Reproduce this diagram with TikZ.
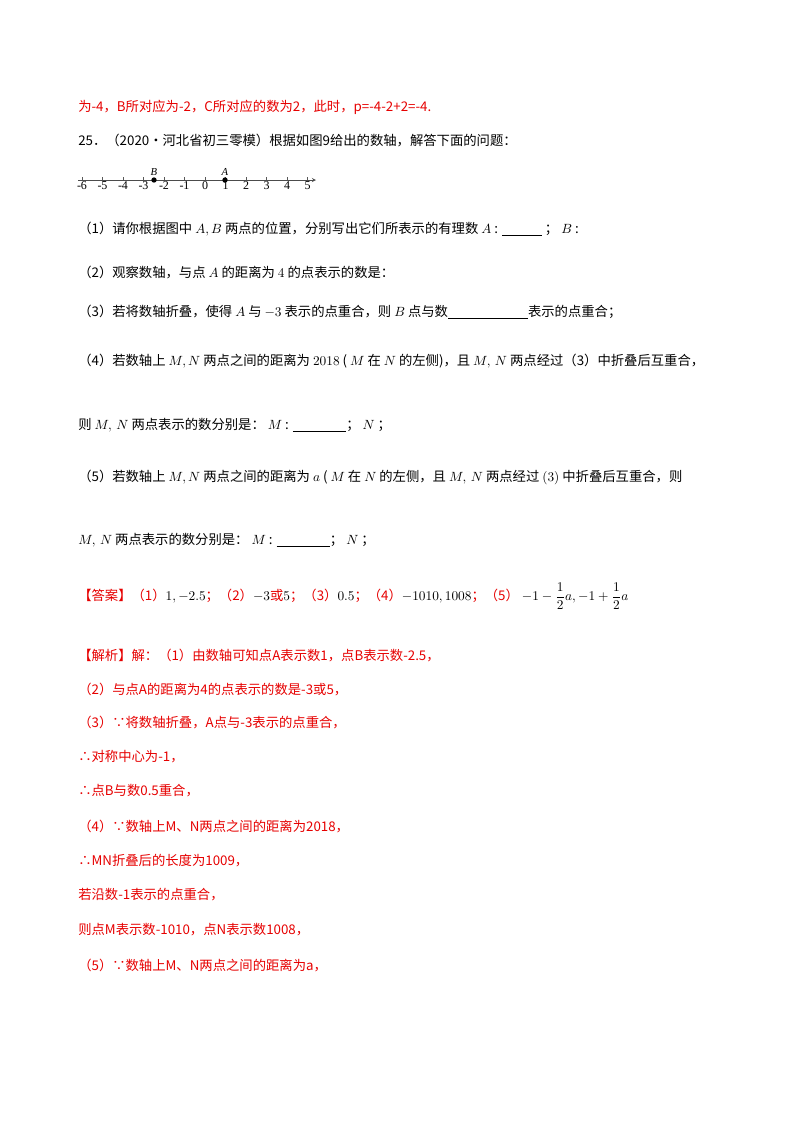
\documentclass[tikz,border=0pt]{standalone}
\usepackage{fontspec}
\setmainfont{Liberation Serif}
\newfontfamily\cjk{Noto Sans CJK SC}
\usetikzlibrary{positioning}
\definecolor{ansred}{RGB}{230,0,0}
\tikzset{
  txt/.style={anchor=west, inner sep=0pt, font=\cjk\fontsize{10}{12}\selectfont},
  redtxt/.style={txt, text=ansred},
  tick/.style={thin, gray!70!black},
  dot/.style={circle, fill=black, inner sep=0pt, minimum size=4pt}
}
\newcommand{\blank}[1]{\underline{\hspace{#1}}}
\begin{document}
\begin{tikzpicture}[x=0.75pt, y=-0.75pt]
  \useasboundingbox (0,0) rectangle (800,1132);

  \node (prev) [redtxt] at (78,107) {为-4，\textit{B}所对应为-2，\textit{C}所对应的数为2，此时，\textit{p}=-4-2+2=-4.};
  \node (title) [txt] at (78,141) {25．（2020·河北省初三零模）根据如图9给出的数轴，解答下面的问题：};

  % number line
  \coordinate (axl) at (78,180);
  \coordinate (axr) at (316,180);
  \draw [gray!60!black, ->, >=stealth] (axl) -- (axr);
  \foreach \n [count=\i from 0] in {-6,...,5} {
    \draw [tick] (82+20.5*\i,177) -- (82+20.5*\i,180);
    \node [font=\fontsize{9}{10}\selectfont, inner sep=0pt] at (82+20.5*\i,186) {\n};
  }
  \node (ptB) [dot] at (154,180) {};
  \node (ptA) [dot] at (225,180) {};
  \node [above=1pt of ptB, inner sep=0pt, font=\itshape\fontsize{8}{9}\selectfont] {B};
  \node [above=1pt of ptA, inner sep=0pt, font=\itshape\fontsize{8}{9}\selectfont] {A};

  \node (q1) [txt] at (78,229) {（1）请你根据图中 $A,B$ 两点的位置，分别写出它们所表示的有理数 $A$ : \blank{30pt} ； $B$ :};
  \node (q2) [txt] at (78,273) {（2）观察数轴，与点 $A$ 的距离为 $4$ 的点表示的数是：};
  \node (q3) [txt] at (78,312) {（3）若将数轴折叠，使得 $A$ 与 $-3$ 表示的点重合，则 $B$ 点与数\blank{60pt}表示的点重合；};
  \node (q4) [txt] at (78,361) {（4）若数轴上 $M,N$ 两点之间的距离为 $2018$ ( $M$ 在 $N$ 的左侧)，且 $M,\,N$ 两点经过（3）中折叠后互重合，};
  \node (q4b) [txt] at (78,425) {则 $M,\,N$ 两点表示的数分别是： $M$ : \blank{40pt}； $N$ ；};
  \node (q5) [txt] at (78,477) {（5）若数轴上 $M,N$ 两点之间的距离为 $a$ ( $M$ 在 $N$ 的左侧，且 $M,\,N$ 两点经过 $(3)$ 中折叠后互重合，则};
  \node (q5b) [txt] at (78,540) {$M,\,N$ 两点表示的数分别是： $M$ : \blank{40pt}； $N$ ；};

  \node (ans) [txt] at (78,596) {\textcolor{ansred}{【答案】（1）}$1,-2.5$\textcolor{ansred}{；（2）}$-3$\textcolor{ansred}{或}$5$\textcolor{ansred}{；（3）}$0.5$\textcolor{ansred}{；（4）}$-1010,1008$\textcolor{ansred}{；（5）} $\displaystyle -1-\frac{1}{2}a,-1+\frac{1}{2}a$};

  \node (s1) [redtxt] at (78,655) {【解析】解：（1）由数轴可知点A表示数1，点B表示数-2.5，};
  \node (s2) [redtxt] at (78,689) {（2）与点A的距离为4的点表示的数是-3或5，};
  \node (s3) [redtxt] at (78,722) {（3）∵将数轴折叠，A点与-3表示的点重合，};
  \node (s4) [redtxt] at (78,757) {∴对称中心为-1，};
  \node (s5) [redtxt] at (78,791) {∴点B与数0.5重合，};
  \node (s6) [redtxt] at (78,826) {（4）∵数轴上M、N两点之间的距离为2018，};
  \node (s7) [redtxt] at (78,861) {∴MN折叠后的长度为1009，};
  \node (s8) [redtxt] at (78,895) {若沿数-1表示的点重合，};
  \node (s9) [redtxt] at (78,930) {则点M表示数-1010，点N表示数1008，};
  \node (s10) [redtxt] at (78,965) {（5）∵数轴上M、N两点之间的距离为a，};
\end{tikzpicture}
\end{document}
